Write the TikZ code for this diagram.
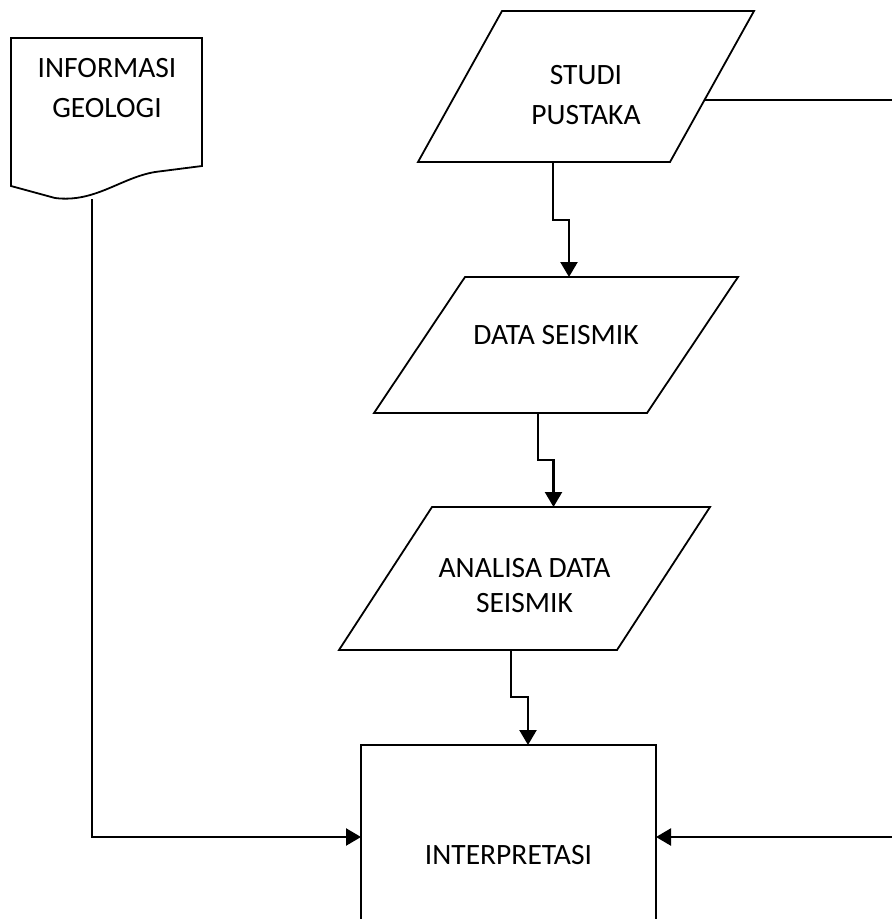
\documentclass[tikz,border=0pt]{standalone}
\usepackage{fontspec}
\setmainfont{Carlito}
\usetikzlibrary{positioning,arrows.meta}

% jajaran genjang di sekitar node
\newcommand\ioshape[2]{\draw[line width=1.8pt] ([xshift=#2/2]#1.north west) -- ([xshift=#2/2]#1.north east) -- ([xshift=-#2/2]#1.south east) -- ([xshift=-#2/2]#1.south west) -- cycle;}

\begin{document}
\begin{tikzpicture}[x=1pt,y=-1pt,
	font=\fontsize{29.5}{40}\selectfont,
	iobox/.style={rectangle,outer sep=0pt,inner sep=0pt},
	txt/.style={align=center,inner sep=0pt},
	procbox/.style={rectangle,draw,line width=1.8pt,align=center,outer sep=0pt},
	flow/.style={line width=2.3pt,-{Triangle[width=17pt,length=15pt]}}]
	\clip (0,0) rectangle (892,919);

	\node[iobox,minimum width=252pt,minimum height=151pt]	(studi)	at (586,86.5)	{};
	\node[iobox,minimum width=273pt,minimum height=136pt]	(data)	at (556,345)	{};
	\node[iobox,minimum width=278pt,minimum height=143pt]	(ana)	at (524.5,578.5)	{};
	\node[procbox,minimum width=295pt,minimum height=220pt]	(interp)	at (508.5,855)	{INTERPRETASI};
	\ioshape{studi}{84pt}
	\ioshape{data}{91pt}
	\ioshape{ana}{93pt}

	\node[txt]	(studitxt)	at ([yshift=-9pt]studi.center)	{STUDI\\PUSTAKA};
	\node[txt]	(datatxt)	at ([yshift=10pt]data.center)	{DATA SEISMIK};
	\node[txt]	(anatxt)	at ([yshift=-7.5pt]ana.center)	{ANALISA DATA\\[-5pt]SEISMIK};

	% dokumen
	\node[txt]	(info)	at (107,88)	{INFORMASI\\GEOLOGI};
	\draw[line width=1.8pt] (11,186) -- (11,38) -- (202,38) -- (202,166) -- (155,172) .. controls (120,178) and (95,203) .. (55,198) -- cycle;
	\coordinate (infobot) at (92,199);

	\coordinate (studiout) at ([shift={(-7.5pt,-13.5pt)}]studi.east);
	\coordinate (loop) at (915,0);

	\draw[flow] ([xshift=-33pt]studi.south) -- ++(0,58) -| ([xshift=13pt]data.north);
	\draw[flow] ([xshift=-18pt]data.south) -- ++(0,47) -| ([xshift=29pt]ana.north);
	\draw[flow] ([xshift=-13.5pt]ana.south) -- ++(0,47) -| ([xshift=19.5pt]interp.north);
	\draw[flow] (infobot) |- ([yshift=-92pt]interp.north west);
	\draw[flow] (studiout) -- (studiout -| loop) |- ([yshift=-92pt]interp.north east);
\end{tikzpicture}
\end{document}
